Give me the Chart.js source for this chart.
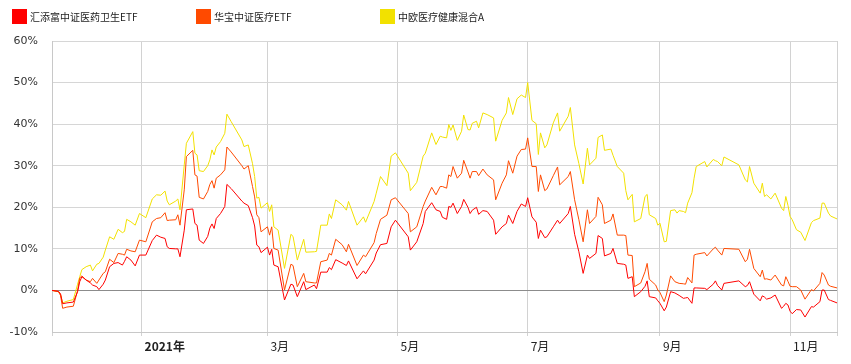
<!DOCTYPE html>
<html>
<head>
<meta charset="utf-8">
<script src="https://cdn.jsdelivr.net/npm/chart.js@4.4.0/dist/chart.umd.min.js"></script>
<style>
  body { margin: 0; background: #fff; }
  #box { position: relative; width: 851px; height: 364px; }
  #legend { position: absolute; left: 12px; top: 9px; display: flex; font: 10px "Noto Sans CJK SC", sans-serif; color: #222; white-space: nowrap; }
  .item { width: 184px; height: 15px; line-height: 15px; display: flex; }
  .swatch { width: 15px; height: 15px; margin-right: 3px; }
</style>
</head>
<body>
<div id="box">
  <div id="legend"></div>
  <canvas id="chart" width="851" height="364"></canvas>
</div>
<script>
const seriesNames = ['汇添富中证医药卫生ETF', '华宝中证医疗ETF', '中欧医疗健康混合A']
const seriesColors = ['#ff0000', '#ff4a00', '#f2e100']

const dates = [
  '2020-11-20','2020-11-23','2020-11-24','2020-11-25','2020-11-27','2020-11-30',
  '2020-12-02','2020-12-03','2020-12-04','2020-12-06','2020-12-08','2020-12-09','2020-12-11','2020-12-12','2020-12-14','2020-12-15','2020-12-17','2020-12-19','2020-12-21','2020-12-23','2020-12-24','2020-12-25','2020-12-27','2020-12-29','2020-12-31',
  '2021-01-03','2021-01-06','2021-01-08','2021-01-10','2021-01-12','2021-01-13','2021-01-14','2021-01-17','2021-01-18','2021-01-19','2021-01-21','2021-01-22','2021-01-25','2021-01-26','2021-01-27','2021-01-28','2021-01-30',
  '2021-02-01','2021-02-02','2021-02-03','2021-02-04','2021-02-05','2021-02-07','2021-02-09','2021-02-10','2021-02-12','2021-02-17','2021-02-18','2021-02-20','2021-02-22','2021-02-23','2021-02-24','2021-02-25','2021-02-26',
  '2021-03-01','2021-03-02','2021-03-03','2021-03-04','2021-03-06','2021-03-09','2021-03-12','2021-03-13','2021-03-15','2021-03-18','2021-03-19','2021-03-23','2021-03-24','2021-03-26','2021-03-29','2021-03-30','2021-03-31',
  '2021-04-02','2021-04-05','2021-04-07','2021-04-08','2021-04-12','2021-04-15','2021-04-16','2021-04-20','2021-04-21','2021-04-23','2021-04-26','2021-04-28','2021-04-30',
  '2021-05-06','2021-05-07','2021-05-10','2021-05-13','2021-05-14','2021-05-17','2021-05-19','2021-05-21','2021-05-22','2021-05-24','2021-05-25','2021-05-26','2021-05-27','2021-05-29','2021-05-31',
  '2021-06-01','2021-06-03','2021-06-04','2021-06-05','2021-06-07','2021-06-08','2021-06-10','2021-06-12','2021-06-15','2021-06-16','2021-06-19','2021-06-21','2021-06-22','2021-06-24','2021-06-26','2021-06-28','2021-06-30',
  '2021-07-01','2021-07-03','2021-07-05','2021-07-06','2021-07-07','2021-07-09','2021-07-10','2021-07-13','2021-07-15','2021-07-16','2021-07-20','2021-07-21','2021-07-23','2021-07-25','2021-07-27','2021-07-29','2021-07-30',
  '2021-08-02','2021-08-03','2021-08-05','2021-08-06','2021-08-09','2021-08-10','2021-08-12','2021-08-15','2021-08-16','2021-08-17','2021-08-19','2021-08-20','2021-08-23','2021-08-25','2021-08-26','2021-08-27','2021-08-30','2021-08-31',
  '2021-09-01','2021-09-03','2021-09-04','2021-09-06','2021-09-08','2021-09-09','2021-09-10','2021-09-12','2021-09-13','2021-09-14','2021-09-16','2021-09-17','2021-09-18','2021-09-22','2021-09-23','2021-09-26','2021-09-27','2021-09-28','2021-09-30',
  '2021-10-01','2021-10-08','2021-10-11','2021-10-12','2021-10-13','2021-10-15','2021-10-18','2021-10-19','2021-10-20','2021-10-21','2021-10-23','2021-10-25','2021-10-28','2021-10-29','2021-10-30','2021-10-31',
  '2021-11-01','2021-11-02','2021-11-04','2021-11-06','2021-11-08','2021-11-11','2021-11-12','2021-11-15','2021-11-16','2021-11-17','2021-11-19','2021-11-20','2021-11-23'
]

// 汇添富中证医药卫生ETF (%)
const htfValues = [
  0,-0.2,-0.8,-3.2,-3,-2.8,
  -0.3,2.1,3.3,2.5,1.8,1.3,0.9,0.2,1.5,2.5,5.7,6.5,6.7,6.1,7,8.1,7.3,5.9,8.5,
  8.5,12,13.3,12.8,12.5,10.5,10.1,10,10,8.1,14.5,19.4,19.6,16.1,15.7,12.1,11.3,
  13,15,16,14.9,17.3,18.5,20.2,25.5,24.5,21.5,21,20.4,17.5,15.5,10.9,10.5,9.1,
  10.4,8.5,9.9,6.1,5.7,-2.3,1.5,1.3,-1.5,2.1,0.2,1.3,0.4,4.4,4.4,5.5,5,
  7.4,6.6,6,7.1,2.8,4.7,4,7.3,9,11,11.3,15.3,16.9,
  12.9,9.7,11.7,16.1,19,21.1,19.4,19,17.6,17.1,20.2,20,21,18.5,20.2,
  21.9,20,18.5,19.3,20,18.3,19.2,19,16.9,13.5,15.3,16.1,18.1,16.1,19,20.8,20.2,
  22.3,17.7,16.4,12.5,14.5,12.7,12.9,15.3,16.9,16.1,18.5,20.2,13.5,9.3,4.1,8.5,7.7,
  8.9,13.2,12.5,8.3,8.9,10.1,6.5,6.3,6.1,2.9,3.3,-1.5,-0.3,1,2.3,-1.5,-1.8,-2.5,
  -3.1,-4.9,-4,-0.3,-0.6,-0.9,-1.2,-1.9,-1.8,-1.7,-3.1,0.6,0.6,0.5,0.2,1.5,2.3,1.2,0.1,
  1.7,2.3,0.9,1.2,2.1,-0.9,-2.5,-1.3,-1.6,-2.1,-1.8,-1.1,-4.3,-3.8,-3.1,-3.5,
  -5,-5.6,-4.6,-4.7,-6.4,-3.9,-4,-2.7,0.1,0.1,-2.2,-2.4,-3
]

// 华宝中证医疗ETF (%)
const hbValues = [
  0,-0.3,-1.2,-4.3,-4,-3.8,
  0,3,3.5,2.5,2.1,2.9,1.7,2.5,4.1,4.5,7.5,6.7,8.9,8.7,8.5,9.9,9.5,9.3,12.1,
  11.7,16.5,17.3,17.5,18.7,16.8,16.9,17,18.2,15.7,24.2,32.2,33.7,27.8,27.5,22.4,22,
  23.8,25.5,26.4,24.6,27,27.8,29,34.5,33.3,30,29.2,30,25,22.5,18.2,17.5,14.1,
  15.3,13.3,15.3,10.1,9.7,0.1,6.3,6,0.9,4.1,2.1,1.8,1.8,6.9,7.3,8.9,8.5,
  12.3,11,9.3,11.1,6,8.5,8.1,11.5,13.7,17.1,18.1,21.8,22.3,
  18.5,14.1,15.3,20.2,21.5,24.8,23,25,25,24.6,27.8,27.4,29.8,27,28.2,
  31.3,28.5,27,28.6,28.6,27.6,29.2,27.8,26.6,21.8,25.8,27.8,31.2,28.2,32.3,33.9,34,
  36.7,29.8,29.8,23.8,27.8,24,24.4,27.6,29.7,25.4,27.4,28.6,21.8,17,11.7,19.4,16.1,
  17.8,22.4,20.6,16.1,16.9,18.4,13.3,13.3,13.2,8.5,8.4,0.9,1.8,4.5,6.5,2.7,1.3,0.1,
  -0.5,-2.7,-1.1,3.5,2.1,1.9,1.7,1.6,1.5,3.1,1.8,8.5,8.7,9.1,8.3,10,10.4,9.7,8.5,
  10.1,9.9,6.9,7.5,9.9,5.3,3.3,4.9,2.7,2.8,2.5,3.7,1.3,1.1,3.3,2.2,
  1,0.9,0.9,0.1,-2.1,0.2,-0.1,1.7,4.3,3.7,1.3,1,0.6
]

// 中欧医疗健康混合A (%)
const zoValues = [
  0,-0.3,-1,-3,-2.6,-2.2,
  1.5,3.3,5,5.7,6.1,4.7,6.3,6.5,8,9.7,12.9,12.3,14.7,13.9,14.2,17.1,16.5,15.7,18.5,
  17.5,22,23,22.9,23.9,21.5,20.6,21.5,22,19.4,30.2,35.4,38.2,33,32.6,28.8,28.6,
  30,31.4,33.8,32.6,34.5,35.8,37.8,42.4,40.6,36.2,34.6,35,30.5,27.4,22.2,22.4,19.8,
  21.1,19,20.6,15.3,14.5,5.3,13.5,13,7.3,12.3,9.2,9.3,9.4,15.7,15.7,18.4,17.3,
  21.8,20.6,19.3,21.4,15.7,17.7,16.4,21.4,23.4,27.4,25.2,32.3,33.1,
  28.2,24,26,32.3,33,37.9,35.1,37.1,36.9,36.7,39.9,38.5,39.8,36.1,38.3,
  42.2,38.7,38.6,40.2,40.7,39.1,42.7,42.3,41.5,35.9,40.9,42.7,46.4,42.3,46.1,47,46.4,
  50,40.9,40.1,32.7,37.9,34.3,35,40.3,42.7,38.3,41.9,44,35,30.5,25.6,34.2,30.2,
  31.8,36.8,37.4,33.7,34,32.5,29.8,28.2,24,21.8,23.1,16.5,17.3,22.6,23.1,18.2,17.3,15.7,
  16.2,11.7,11.8,19.2,19.4,18.6,19.2,19,18.7,21,23.5,27,29.8,31,29.7,31.5,31.2,31,30,
  32.1,30.2,26.6,26.1,29.8,25.8,23.4,25.8,22.6,23,22,23.4,19.8,19.2,22.6,20.5,
  17.8,17,14.6,14,12,16.3,16.8,17.4,21,21,18.6,17.9,17.2
]

const tickDates = ['2021-01-01', '2021-03-01', '2021-05-01', '2021-07-01', '2021-09-01', '2021-11-01']
const tickLabels = ['2021年', '3月', '5月', '7月', '9月', '11月']
const yTicks = [-10, 0, 10, 20, 30, 40, 50, 60]

// days since 2021-01-01
function dayOf(s){
    const [y, m, d] = s.split('-').map(Number)
    return (Date.UTC(y, m - 1, d) - Date.UTC(2021, 0, 1)) / 86400000
}

const tickDays = tickDates.map(dayOf)
const allValues = [htfValues, hbValues, zoValues]

// legend
const legend = document.getElementById('legend')
legend.innerHTML = seriesNames.map((name, i) =>
    `<div class="item"><span class="swatch" style="background:${seriesColors[i]}"></span><span>${name}</span></div>`
).join('')

const datasets = allValues.map((vals, i) => ({
    label: seriesNames[i],
    data: dates.map((d, j) => ({ x: dayOf(d), y: vals[j] })),
    borderColor: seriesColors[i],
    backgroundColor: seriesColors[i],
    borderWidth: 1,
    pointRadius: 0,
    tension: 0,
    fill: false
}))

new Chart('chart', {
    type: 'line',
    data: { datasets },
    options: {
        responsive: false,
        animation: false,
        layout: { padding: { top: 41, right: 14, left: 0, bottom: 0 } },
        plugins: {
            legend: { display: false },
            tooltip: { enabled: false }
        },
        scales: {
            x: {
                type: 'linear',
                min: dayOf(dates[0]),
                max: dayOf(dates[dates.length - 1]),
                afterBuildTicks: s => {
                    s.ticks = [s.min, ...tickDays, s.max].map(v => ({ value: v }))
                },
                afterFit: s => { s.height = 32 },
                grid: { color: '#d2d2d2', tickLength: 4 },
                border: { color: '#c8c8c8' },
                ticks: {
                    autoSkip: false,
                    maxRotation: 0,
                    align: 'start',
                    labelOffset: 3,
                    padding: 3,
                    color: '#222',
                    font: ctx => ({
                        family: '"Noto Sans CJK SC", sans-serif',
                        size: 12,
                        weight: ctx.tick && ctx.tick.value === 0 ? 'bold' : 'normal'
                    }),
                    callback: v => {
                        const i = tickDays.indexOf(v)
                        return i >= 0 ? tickLabels[i] : ''
                    }
                }
            },
            y: {
                min: -10,
                max: 60,
                afterBuildTicks: s => {
                    s.ticks = yTicks.map(v => ({ value: v }))
                },
                afterFit: s => { s.width = 52 },
                grid: {
                    drawTicks: false,
                    color: ctx => ctx.tick && ctx.tick.value === 0 ? '#8c8c8c' : '#d6d6d6'
                },
                border: { color: '#c8c8c8' },
                ticks: {
                    padding: 14,
                    color: '#333',
                    font: { family: '"DejaVu Sans", sans-serif', size: 11 },
                    callback: v => v + '%'
                }
            }
        }
    }
})
</script>
</body>
</html>
